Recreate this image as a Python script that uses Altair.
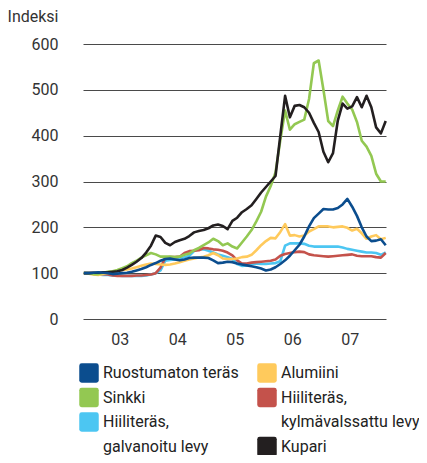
import altair as alt
import pandas as pd

FONT = "Roboto"
FS = 16

# monthly observations, Nov 2002 .. Feb 2008
start = pd.Period("2002-11", "M")
months = [start + i for i in range(64)]

ruostumaton = [100, 100, 101, 102, 101, 100, 98, 99, 100, 101,
               103, 106, 109, 113, 118, 122, 127, 131, 132, 130,
               128, 130, 133, 134, 134, 134, 133, 128, 122, 123,
               125, 124, 121, 119, 117, 115, 113, 110, 106, 108,
               113, 120, 128, 138, 150, 162, 180, 202, 220, 230,
               240, 239, 239, 242, 250, 262, 245, 225, 200, 180,
               170, 171, 174, 161]
alumiini = [100, 99, 97, 96, 98, 100, 103, 105, 107, 108,
            110, 113, 116, 119, 121, 120, 119, 118, 119, 121,
            124, 127, 130, 132, 134, 136, 139, 144, 139, 132,
            131, 131, 132, 135, 136, 140, 150, 161, 170, 177,
            176, 190, 207, 182, 183, 180, 182, 191, 196, 202,
            202, 202, 200, 201, 202, 199, 193, 197, 187, 175,
            180, 183, 174, 177]
sinkki = [100, 100, 98, 98, 101, 103, 104, 107, 111, 115,
          122, 127, 134, 139, 144, 141, 136, 136, 136, 135,
          136, 140, 143, 150, 155, 161, 167, 175, 170, 161,
          165, 158, 154, 167, 180, 194, 213, 234, 267, 290,
          320, 390, 455, 413, 425, 430, 435, 480, 558, 564,
          500, 432, 421, 455, 485, 470, 457, 430, 389, 376,
          356, 317, 300, 300]
kylmavalssattu = [100, 100, 100, 99, 98, 97, 95, 94, 94, 94,
                  94, 95, 95, 96, 97, 100, 112, 134, 135, 135,
                  136, 144, 148, 149, 150, 155, 154, 152, 151, 149,
                  145, 139, 128, 121, 121, 123, 124, 125, 126, 127,
                  130, 138, 142, 144, 146, 147, 146, 141, 139, 138,
                  137, 136, 137, 138, 139, 140, 141, 138, 137, 137,
                  137, 135, 134, 144]
galvanoitu = [100, 100, 99, 97, 96, 96, 95, 95, 94, 94,
              94, 94, 94, 95, 97, 100, 106, 127, 129, 130,
              131, 135, 138, 148, 153, 152, 149, 145, 141, 138,
              135, 131, 120, 116, 117, 120, 121, 120, 120, 121,
              122, 126, 160, 165, 165, 165, 164, 160, 158, 158,
              158, 158, 158, 158, 156, 153, 151, 149, 147, 145,
              145, 144, 140, 145]
kupari = [100, 100, 101, 101, 102, 102, 103, 104, 107, 112,
          118, 125, 133, 145, 160, 182, 179, 166, 161, 168,
          172, 175, 181, 189, 192, 194, 198, 204, 206, 203,
          196, 214, 221, 233, 240, 248, 262, 276, 288, 300,
          312, 400, 487, 440, 465, 467, 462, 450, 428, 408,
          365, 342, 362, 433, 470, 459, 464, 484, 462, 487,
          462, 418, 405, 432]

names = ["Ruostumaton teräs", "Alumiini", "Sinkki",
         "Hiiliteräs, kylmävalssattu levy", "Hiiliteräs, galvanoitu levy", "Kupari"]
colors = ["#0b4d8e", "#ffca5c", "#93c852", "#c4524b", "#4cc6f2", "#231f20"]

# legend columns, the two-line names given one line per entry
left_lines = ["Ruostumaton teräs", "Sinkki", "Hiiliteräs,", "galvanoitu levy"]
left_colors = ["#0b4d8e", "#93c852", "#4cc6f2", "rgba(0,0,0,0)"]
right_lines = ["Alumiini", "Hiiliteräs,", "kylmävalssattu levy", "Kupari"]
right_colors = ["#ffca5c", "#c4524b", "rgba(0,0,0,0)", "#231f20"]

year_ticks = [2003.5, 2004.5, 2005.5, 2006.5, 2007.5]
y_ticks = [0, 100, 200, 300, 400, 500, 600]

series = {
    "Hiiliteräs, galvanoitu levy": galvanoitu,
    "Hiiliteräs, kylmävalssattu levy": kylmavalssattu,
    "Alumiini": alumiini,
    "Sinkki": sinkki,
    "Kupari": kupari,
    "Ruostumaton teräs": ruostumaton,
}
rows = []
for name, vals in series.items():
    assert len(vals) == len(months)
    for m, v in zip(months, vals):
        rows.append({"series": name, "t": m.year + (m.month - 0.5) / 12, "value": v})
df = pd.DataFrame(rows)

PATH = ("M-0.75,-1 L0.75,-1 Q1,-1 1,-0.75 L1,0.75 Q1,1 0.75,1 L-0.75,1 "
        "Q-1,1 -1,0.75 L-1,-0.75 Q-1,-1 -0.75,-1 Z")

x_enc = alt.X("t:Q", scale=alt.Scale(domain=[2002.86, 2008.13], nice=False, zero=False),
              axis=alt.Axis(values=year_ticks, labelExpr="slice(format(floor(datum.value), 'd'), 2)",
                            grid=False, domain=False, ticks=False, tickSize=0, labelPadding=12,
                            labelFontSize=FS, title=None))
y_enc = alt.Y("value:Q", scale=alt.Scale(domain=[0, 600], nice=False),
              axis=alt.Axis(values=y_ticks, grid=True, domain=False, ticks=False, tickSize=0,
                            labelPadding=25, labelFontSize=FS, title="Indeksi", titleAngle=0,
                            titleAlign="right", titleBaseline="middle", titleX=-25, titleY=-28,
                            titleFontSize=FS, titleFontWeight="normal", titleColor="#333"))


def legend(lx):
    return alt.Legend(orient="none", legendX=lx, legendY=319, title=None,
                      symbolType=PATH, symbolSize=380, symbolStrokeWidth=0, symbolOpacity=1,
                      labelFontSize=FS, labelFont=FONT, labelColor="#222", labelOffset=4,
                      rowPadding=4.5, direction="vertical", padding=0, labelLimit=300)


lines = alt.Chart(df).mark_line(strokeWidth=2.6, strokeJoin="round").encode(
    x=x_enc, y=y_enc,
    stroke=alt.Stroke("series:N", scale=alt.Scale(domain=names, range=colors), legend=None),
)
leg_a = alt.Chart(df).transform_filter(
    alt.FieldOneOfPredicate(field="series", oneOf=["Ruostumaton teräs", "Sinkki"])
).mark_point(filled=True, opacity=0, size=10).encode(
    x=x_enc, y=y_enc,
    fill=alt.Fill("series:N", scale=alt.Scale(domain=left_lines, range=left_colors), legend=legend(-4)),
)
leg_b = alt.Chart(df).transform_filter(
    alt.FieldOneOfPredicate(field="series", oneOf=["Alumiini", "Kupari"])
).mark_point(filled=True, opacity=0, size=10).encode(
    x=x_enc, y=y_enc,
    color=alt.Color("series:N", scale=alt.Scale(domain=right_lines, range=right_colors), legend=legend(174)),
)

chart = alt.layer(lines, leg_a, leg_b).properties(
    width=303, height=275,
    padding={"left": 75, "top": 36, "right": 33, "bottom": 136},
    autosize=alt.AutoSizeParams(type="none"),
).configure_view(stroke=None).configure_axis(
    labelFont=FONT, titleFont=FONT, labelColor="#333", gridColor="#4a4a4a", gridWidth=1.2,
)

chart.save("out.html", embed_options={"renderer": "svg", "actions": False})
